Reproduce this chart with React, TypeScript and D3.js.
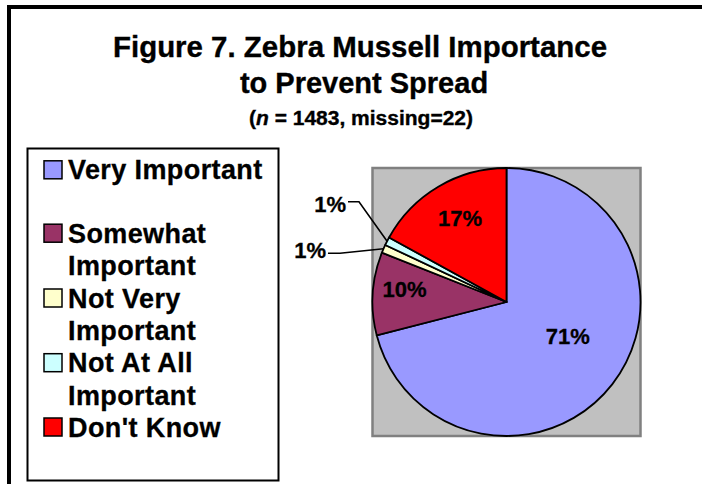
import React from "react";
import * as d3 from "d3";

const categories = ["Very Important", "Somewhat Important", "Not Very Important", "Not At All Important", "Don't Know"];
const legendLines = [["Very Important", ""], ["Somewhat", "Important"], ["Not Very", "Important"], ["Not At All", "Important"], ["Don't Know", ""]];
const values = [71, 10, 1, 1, 17];
const labels = ["71%", "10%", "1%", "1%", "17%"];
const colors = ["#9999FF", "#993366", "#FFFFCC", "#CCFFFF", "#FF0000"];

const FONT = "'Liberation Sans', Arial, Helvetica, sans-serif";

export default function App() {
  const W = 702, H = 484;
  const cx = 506.5, cy = 302, r = 134;
  const pie = d3.pie<number>().sort(null).value((d) => d).startAngle(0).endAngle(2 * Math.PI);
  const arcs = pie(values);
  const arc = d3.arc<d3.PieArcDatum<number>>().innerRadius(0).outerRadius(r);
  const polar = (ang: number, rad: number): [number, number] => [Math.sin(ang) * rad, -Math.cos(ang) * rad];
  const deg = Math.PI / 180;

  // inside label placement: [radius factor, angle offset (deg)]
  const inside: Record<number, [number, number]> = { 0: [0.525, -8.3], 1: [0.767, 3.6], 4: [0.713, 1.5] };
  // outside label placement: [elbow radius factor, elbow angle (deg), run, text dy]
  const outside: Record<number, [number, number, number, number]> = { 2: [1.295, 286.3, 12, 5], 3: [1.331, 304.2, 11, 10] };

  // legend layout
  const rowsY = [179.3, 242.7, 274.9, 307.5, 339.8, 372.2, 404.6, 436.5];
  const legendRows: { text: string; swatch: number | null; y: number }[] = [];
  legendLines.forEach((ls, i) => {
    legendRows.push({ text: ls[0], swatch: i, y: 0 });
    if (ls[1]) legendRows.push({ text: ls[1], swatch: null, y: 0 });
  });
  legendRows.forEach((lr, k) => (lr.y = rowsY[k]));

  return (
    <svg width={W} height={H} style={{ position: "absolute", left: 0, top: 0, background: "#fff" }} fontFamily={FONT}>
      <rect x={0} y={0} width={W} height={H} fill="#fff" />
      {/* outer frame */}
      <rect x={9} y={7} width={W + 40} height={H + 40} fill="none" stroke="#000" strokeWidth={4} />
      {/* title */}
      <g fontWeight="bold" stroke="#000" strokeWidth={0.35}>
        <text x={360} y={57} textAnchor="middle" fontSize={29} textLength={494} lengthAdjust="spacingAndGlyphs">Figure 7. Zebra Mussell Importance</text>
        <text x={364} y={93} textAnchor="middle" fontSize={29}>to Prevent Spread</text>
        <text x={361} y={125} textAnchor="middle" fontSize={20} textLength={224} lengthAdjust="spacingAndGlyphs">
          (<tspan fontStyle="italic">n</tspan> = 1483, missing=22)
        </text>
      </g>

      {/* legend */}
      <rect x={27.5} y={148.5} width={251} height={332} fill="#fff" stroke="#000" strokeWidth={2} />
      {legendRows.map((lr, k) => (
        <g key={k}>
          {lr.swatch !== null && (
            <rect x={44} y={lr.y - 18.5} width={18} height={18} fill={colors[lr.swatch]} stroke="#000" strokeWidth={1.5} />
          )}
          <text x={68} y={lr.y} fontSize={27} fontWeight="bold" letterSpacing={0.4} stroke="#000" strokeWidth={0.3}>{lr.text}</text>
        </g>
      ))}

      {/* plot area */}
      <rect x={372.5} y={168} width={268} height={268} fill="#C0C0C0" stroke="#808080" strokeWidth={2.5} />

      <g transform={`translate(${cx},${cy})`}>
        {arcs.map((a, i) => (
          <path key={i} d={arc(a) || ""} fill={colors[i]} stroke="#000" strokeWidth={1.8} strokeLinejoin="round" />
        ))}
        {arcs.map((a, i) => {
          const mid = (a.startAngle + a.endAngle) / 2;
          if (inside[i]) {
            const [f, dA] = inside[i];
            const [x, y] = polar(mid + dA * deg, f * r);
            return (
              <text key={"l" + i} x={x} y={y + 7.5} textAnchor="middle" fontSize={22} fontWeight="bold" stroke="#000" strokeWidth={0.3}>{labels[i]}</text>
            );
          }
          const [f, eAng, run, dy] = outside[i];
          const [sx, sy] = polar(mid, r);
          const [ex, ey] = polar(eAng * deg, f * r);
          return (
            <g key={"l" + i}>
              <polyline points={`${sx},${sy} ${ex},${ey} ${ex - run},${ey}`} fill="none" stroke="#000" strokeWidth={1.6} />
              <text x={ex - run - 2} y={ey + dy} textAnchor="end" fontSize={22} fontWeight="bold" stroke="#000" strokeWidth={0.3}>{labels[i]}</text>
            </g>
          );
        })}
      </g>
    </svg>
  );
}
